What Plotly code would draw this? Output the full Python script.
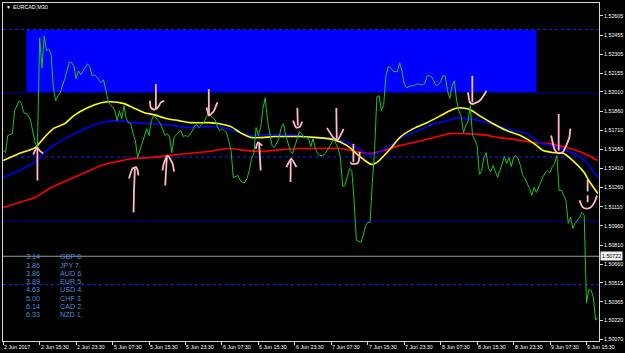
import plotly.graph_objects as go

# ---------------- data ----------------
symbol_title = "EURCAD,M30"

# close line (M30 bars, index 0 = 2 Jun 07:30)
close = [
    1.51550, 1.51535, 1.51668, 1.51675, 1.51683, 1.51863, 1.51910, 1.51941, 1.51918, 1.51847,
    1.51839, 1.51824, 1.51785, 1.51707, 1.51613, 1.51574, 1.52433, 1.52199, 1.52449, 1.52332,
    1.52347, 1.52308, 1.52043, 1.51941, 1.51980, 1.52003, 1.52050, 1.52113, 1.52175, 1.52246,
    1.52238, 1.52214, 1.52113, 1.52175, 1.52144, 1.52175, 1.52199, 1.52230, 1.52207, 1.52136,
    1.52144, 1.52129, 1.52105, 1.52082, 1.52105, 1.52019, 1.51941, 1.51910, 1.51894, 1.51863,
    1.51785, 1.51863, 1.51800, 1.51902, 1.51800, 1.51769, 1.51761, 1.51683, 1.51628, 1.51496,
    1.51550, 1.51613, 1.51668, 1.51722, 1.51668, 1.51785, 1.51824, 1.51808, 1.51785, 1.51761,
    1.51714, 1.51668, 1.51683, 1.51660, 1.51535, 1.51652, 1.51675, 1.51691, 1.51707, 1.51660,
    1.51668, 1.51660, 1.51675, 1.51707, 1.51746, 1.51753, 1.51730, 1.51753, 1.51769, 1.51808,
    1.51839, 1.51824, 1.51808, 1.51793, 1.51738, 1.51707, 1.51722, 1.51707, 1.51691, 1.51628,
    1.51550, 1.51339, 1.51347, 1.51355, 1.51316, 1.51300, 1.51300, 1.51332, 1.51394, 1.51488,
    1.51527, 1.51730, 1.51668, 1.51730, 1.51878, 1.51964, 1.51785, 1.51668, 1.51589, 1.51574,
    1.51613, 1.51644, 1.51730, 1.51761, 1.51668, 1.51605, 1.51550, 1.51527, 1.51589, 1.51652,
    1.51699, 1.51683, 1.51652, 1.51652, 1.51644, 1.51581, 1.51644, 1.51566, 1.51527, 1.51511,
    1.51511, 1.51519, 1.51543, 1.51574, 1.51605, 1.51644, 1.51605, 1.51566, 1.51496, 1.51269,
    1.51277, 1.51339, 1.51410, 1.51394, 1.51160, 1.50847, 1.50840, 1.50832, 1.50886, 1.50957,
    1.50988, 1.50988, 1.51293, 1.51550, 1.51972, 1.51980, 1.51863, 1.51910, 1.52136, 1.52207,
    1.52199, 1.52175, 1.52168, 1.52168, 1.52238, 1.52175, 1.52074, 1.52043, 1.52050, 1.52058,
    1.52058, 1.52066, 1.52074, 1.52066, 1.52066, 1.52074, 1.52136, 1.52136, 1.52129, 1.52097,
    1.52058, 1.52066, 1.52090, 1.52136, 1.52136, 1.52019, 1.51957, 1.52058, 1.52097, 1.51941,
    1.51863, 1.51816, 1.51691, 1.51746, 1.51777, 1.51902, 1.51668, 1.51636, 1.51589, 1.51363,
    1.51394, 1.51496, 1.51535, 1.51410, 1.51386, 1.51433, 1.51378, 1.51339, 1.51394, 1.51457,
    1.51504, 1.51449, 1.51496, 1.51425, 1.51496, 1.51511, 1.51488, 1.51433, 1.51355, 1.51332,
    1.51293, 1.51253, 1.51199, 1.51261, 1.51222, 1.51269, 1.51308, 1.51347, 1.51378, 1.51394,
    1.51378, 1.51425, 1.51449, 1.51511, 1.51238, 1.51238, 1.51199, 1.51160, 1.50980, 1.51027,
    1.50941, 1.50980, 1.51004, 1.51027, 1.51066, 1.51043, 1.50355, 1.50457, 1.50457, 1.50402,
    1.50222, 1.50238,
]
bars = list(range(len(close)))

# moving averages (bar, value) read at sample bars
ma_fast_bars = [0, 7, 14, 18, 22, 27, 31, 37, 43, 47, 53, 57, 62, 66, 72, 77, 82, 90, 95, 100,
                104, 109, 113, 119, 125, 130, 138, 145, 151, 155, 160, 162, 165, 170, 174, 180,
                186, 192, 196, 200, 205, 209, 215, 221, 227, 233, 237, 241, 246, 250, 255, 257, 261]
ma_fast = [1.51472, 1.51527, 1.51574, 1.51652, 1.51722, 1.51761, 1.51824, 1.51886, 1.51925, 1.51933,
           1.51918, 1.51886, 1.51847, 1.51832, 1.51800, 1.51785, 1.51769, 1.51769, 1.51761, 1.51738,
           1.51691, 1.51652, 1.51652, 1.51660, 1.51660, 1.51660, 1.51652, 1.51636, 1.51589, 1.51527,
           1.51457, 1.51441, 1.51472, 1.51566, 1.51652, 1.51722, 1.51769, 1.51824, 1.51863, 1.51886,
           1.51871, 1.51824, 1.51761, 1.51707, 1.51668, 1.51605, 1.51550, 1.51535, 1.51527, 1.51472,
           1.51378, 1.51316, 1.51214]

ma_mid_bars = [0, 7, 14, 18, 22, 28, 36, 43, 50, 57, 65, 72, 81, 90, 95, 101, 109, 116, 123, 130,
               138, 145, 152, 157, 161, 165, 171, 175, 182, 189, 195, 199, 203, 209, 217, 224, 230,
               235, 241, 247, 252, 256, 261]
ma_mid = [1.51339, 1.51394, 1.51457, 1.51535, 1.51589, 1.51652, 1.51722, 1.51769, 1.51785, 1.51769,
          1.51761, 1.51753, 1.51730, 1.51738, 1.51738, 1.51707, 1.51668, 1.51675, 1.51675, 1.51668,
          1.51652, 1.51644, 1.51605, 1.51550, 1.51519, 1.51535, 1.51605, 1.51652, 1.51707, 1.51761,
          1.51785, 1.51808, 1.51800, 1.51785, 1.51746, 1.51707, 1.51683, 1.51613, 1.51589, 1.51550,
          1.51511, 1.51457, 1.51339]

ma_slow_bars = [0, 7, 14, 21, 28, 36, 43, 50, 57, 65, 72, 81, 90, 99, 107, 113, 122, 130, 138, 148,
                155, 161, 167, 174, 182, 189, 196, 203, 210, 218, 225, 233, 240, 247, 253, 257, 261]
ma_slow = [1.51105, 1.51144, 1.51183, 1.51261, 1.51316, 1.51378, 1.51433, 1.51464, 1.51488, 1.51496,
           1.51511, 1.51527, 1.51543, 1.51566, 1.51550, 1.51543, 1.51558, 1.51566, 1.51566, 1.51566,
           1.51543, 1.51527, 1.51550, 1.51589, 1.51621, 1.51652, 1.51683, 1.51683, 1.51675, 1.51652,
           1.51636, 1.51613, 1.51605, 1.51574, 1.51543, 1.51511, 1.51472]

# horizontal levels
level_dotted = [1.52500, 1.51500, 1.50500]
level_solid = [1.52000, 1.51000]
current_price = 1.50722

# supply zone rectangle (bars, prices)
zone_bars = [10.2, 234.1]
zone_prices = [1.52010, 1.52496]

# hand-drawn pink arrows: list of polylines of (bar, price)
arrows = [
    [(15.0, 1.51316), (15.0, 1.51574)],
    [(13.2, 1.51519), (14.4, 1.51566), (14.9, 1.51574), (16.0, 1.51550), (17.5, 1.51527)],
    [(57.2, 1.51066), (57.4, 1.51238), (57.8, 1.51410)],
    [(55.2, 1.51332), (56.8, 1.51410), (58.3, 1.51420), (59.0, 1.51394), (59.3, 1.51355)],
    [(71.1, 1.51277), (71.8, 1.51496)],
    [(69.9, 1.51394), (70.5, 1.51449), (72.2, 1.51511), (74.3, 1.51449), (75.0, 1.51386)],
    [(67.0, 1.52071), (67.0, 1.51876)],
    [(64.4, 1.51941), (64.8, 1.51886), (66.3, 1.51871), (67.8, 1.51886), (69.2, 1.51928), (70.7, 1.51941)],
    [(90.2, 1.52032), (90.3, 1.51824)],
    [(89.3, 1.51889), (90.3, 1.51824), (92.5, 1.51863), (94.0, 1.51928)],
    [(113.0, 1.51394), (112.3, 1.51615)],
    [(110.8, 1.51564), (111.8, 1.51615), (113.7, 1.51589)],
    [(126.1, 1.51303), (126.2, 1.51472)],
    [(124.3, 1.51420), (126.4, 1.51486), (128.7, 1.51420)],
    [(129.1, 1.51886), (129.3, 1.51746)],
    [(127.2, 1.51785), (128.6, 1.51730), (130.2, 1.51738), (131.2, 1.51777)],
    [(146.2, 1.51884), (146.4, 1.51642)],
    [(142.1, 1.51728), (145.0, 1.51650), (146.7, 1.51634), (148.7, 1.51693), (149.4, 1.51720)],
    [(153.7, 1.51603), (153.7, 1.51459)],
    [(152.3, 1.51459), (153.0, 1.51446), (155.5, 1.51451), (156.4, 1.51498), (156.4, 1.51540)],
    [(205.9, 1.52136), (205.9, 1.51928)],
    [(204.0, 1.52006), (204.8, 1.51928), (206.1, 1.51915), (209.1, 1.51941), (211.3, 1.51993), (212.1, 1.52019)],
    [(243.8, 1.51837), (243.8, 1.51550)],
    [(240.5, 1.51668), (241.9, 1.51564), (243.4, 1.51529), (245.6, 1.51537), (247.1, 1.51589),
     (248.5, 1.51654), (248.9, 1.51722)],
    [(256.5, 1.51321), (256.5, 1.51230)],
    [(256.5, 1.51200), (256.5, 1.51146)],
    [(252.9, 1.51160), (254.3, 1.51107), (256.1, 1.51095), (258.0, 1.51107), (259.9, 1.51160), (260.6, 1.51199)],
]

# right price axis ticks
price_ticks = [1.52605, 1.52455, 1.52305, 1.52155, 1.52010, 1.51860, 1.51710, 1.51560, 1.51410,
               1.51260, 1.51110, 1.50960, 1.50810, 1.50660, 1.50515, 1.50365, 1.50220, 1.50070]

# time axis
time_tick_bars = [0, 16, 32, 48, 64, 80, 96, 112, 128, 144, 160, 176, 192, 208, 224, 240, 256]
time_labels = ["2 Jun 2017", "2 Jun 15:30", "2 Jun 23:30", "5 Jun 07:30", "5 Jun 15:30",
               "5 Jun 23:30", "6 Jun 07:30", "6 Jun 15:30", "6 Jun 23:30", "7 Jun 07:30",
               "7 Jun 15:30", "7 Jun 23:30", "8 Jun 07:30", "8 Jun 15:30", "8 Jun 23:30",
               "9 Jun 07:30", "9 Jun 15:30"]

# currency strength table
strength_values = ["3.14", "3.86", "3.86", "3.89", "4.63", "5.00", "6.14", "6.33"]
strength_names = ["GBP 8.", "JPY 7.", "AUD 6.", "EUR 5.", "USD 4.", "CHF 3.", "CAD 2.", "NZD 1."]

# ---------------- layout constants ----------------
W, H = 625, 353
ML, MR, MT, MB = 2, 25, 2, 12
PW, PH = W - ML - MR, H - MT - MB
X_RANGE = [-0.1, 261.5]
Y_RANGE = [1.500581, 1.527066]
FONT = "Arial, Liberation Sans, sans-serif"
TABLE_TOP, TABLE_STEP = 256.6, 8.3


def pxx(px):
    return (px - ML) / PW


def pxy(py):
    return (H - MB - py) / PH


fig = go.Figure()

# zone rectangle
fig.add_shape(type="rect", xref="x", yref="y", x0=zone_bars[0], x1=zone_bars[1],
              y0=zone_prices[0], y1=zone_prices[1], fillcolor="#0000ff",
              line=dict(width=0), layer="below")

for lv in level_dotted:
    fig.add_shape(type="line", xref="paper", yref="y", x0=0, x1=1, y0=lv, y1=lv,
                  line=dict(color="#2020ff", width=1, dash="dot"), layer="below")
for lv in level_solid:
    fig.add_shape(type="line", xref="paper", yref="y", x0=0, x1=1, y0=lv, y1=lv,
                  line=dict(color="#000090", width=1), layer="below")
fig.add_shape(type="line", xref="paper", yref="y", x0=0, x1=1, y0=current_price, y1=current_price,
              line=dict(color="#9a9a9a", width=1), layer="below")

# moving averages
fig.add_trace(go.Scatter(x=ma_slow_bars, y=ma_slow, mode="lines",
                         line=dict(color="#ff0000", width=1.6, shape="spline", smoothing=0.6),
                         hoverinfo="skip"))
fig.add_trace(go.Scatter(x=ma_mid_bars, y=ma_mid, mode="lines",
                         line=dict(color="#0000ff", width=1.6, shape="spline", smoothing=0.6),
                         hoverinfo="skip"))
fig.add_trace(go.Scatter(x=ma_fast_bars, y=ma_fast, mode="lines",
                         line=dict(color="#ffff00", width=1.6, shape="spline", smoothing=0.6),
                         hoverinfo="skip"))
# close line
fig.add_trace(go.Scatter(x=bars, y=close, mode="lines",
                         line=dict(color="#1fc41f", width=1), hoverinfo="skip"))

# arrows
for poly in arrows:
    fig.add_trace(go.Scatter(x=[p[0] for p in poly], y=[p[1] for p in poly], mode="lines",
                             line=dict(color="#ffb8cc", width=1.8, shape="spline", smoothing=0.5),
                             hoverinfo="skip"))

annotations = []
# title
annotations.append(dict(xref="paper", yref="paper", x=pxx(3), y=pxy(6.5), xanchor="left",
                        yanchor="middle", text="▼", showarrow=False,
                        font=dict(family=FONT, size=5, color="#ffffff")))
annotations.append(dict(xref="paper", yref="paper", x=pxx(10), y=pxy(6.5), xanchor="left",
                        yanchor="middle", text=symbol_title, showarrow=False,
                        font=dict(family=FONT, size=5.4, color="#ffffff")))
# time labels
for b, t in zip(time_tick_bars, time_labels):
    annotations.append(dict(xref="x", yref="paper", x=b, y=0, xanchor="left", yanchor="top",
                            xshift=-1, yshift=-0.5, text=t, showarrow=False,
                            font=dict(family=FONT, size=5.3, color="#ffffff")))
# current price label
annotations.append(dict(xref="paper", yref="y", x=1, y=current_price, xanchor="left",
                        yanchor="middle", xshift=1, text="1.50722", showarrow=False,
                        bgcolor="#f0f0f0", borderpad=1,
                        font=dict(family=FONT, size=5.3, color="#000000")))
# strength table
for i, (v, n) in enumerate(zip(strength_values, strength_names)):
    ry = TABLE_TOP + i * TABLE_STEP
    annotations.append(dict(xref="paper", yref="paper", x=pxx(24), y=pxy(ry), xanchor="left",
                            yanchor="middle", text=v, showarrow=False, borderpad=0,
                            font=dict(family=FONT, size=7.2, color="#4a8fd6")))
    annotations.append(dict(xref="paper", yref="paper", x=pxx(58), y=pxy(ry), xanchor="left",
                            yanchor="middle", text=n, showarrow=False, borderpad=0,
                            font=dict(family=FONT, size=7.2, color="#4a8fd6")))

fig.update_layout(
    width=W, height=H,
    margin=dict(l=ML, r=MR, t=MT, b=MB, pad=0),
    paper_bgcolor="#000000", plot_bgcolor="#000000",
    showlegend=False,
    annotations=annotations,
    xaxis=dict(range=X_RANGE, showgrid=False, zeroline=False, showline=True, mirror=True,
               linecolor="#d8d8d8", linewidth=1, ticks="outside", ticklen=3, tickcolor="#d8d8d8",
               tickvals=time_tick_bars, showticklabels=False, fixedrange=True),
    yaxis=dict(range=Y_RANGE, side="right", showgrid=False, zeroline=False, showline=True,
               mirror=True, linecolor="#d8d8d8", linewidth=1, ticks="outside", ticklen=3,
               tickcolor="#d8d8d8", tickvals=price_ticks,
               ticktext=[f"{v:.5f}" for v in price_ticks],
               tickfont=dict(family=FONT, size=5.3, color="#ffffff"), fixedrange=True),
)

fig.write_html("out.html")
